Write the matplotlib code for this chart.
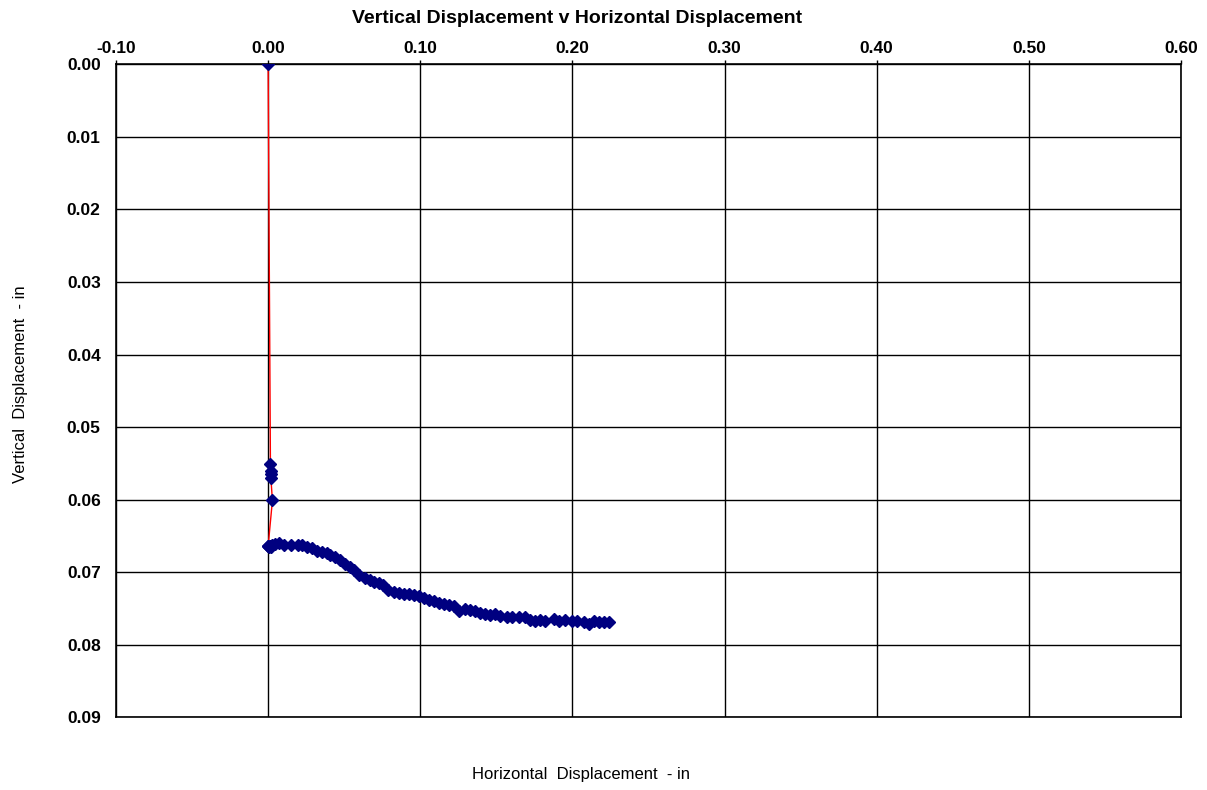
import matplotlib
matplotlib.use("Agg")
import matplotlib.pyplot as plt

plt.rcParams['font.family'] = ['Liberation Sans', 'DejaVu Sans']

# horizontal / vertical displacement readings (in)
horiz = [0.0000, 0.0015, 0.0016, 0.0017, 0.0018, 0.0028,
         0.0000, 0.0008, 0.0015, 0.0020,
         0.0002, 0.0024, 0.0046, 0.0074, 0.0101, 0.0149, 0.0193, 0.0222,
         0.0255, 0.0288, 0.0320, 0.0353, 0.0386, 0.0408, 0.0441, 0.0469,
         0.0502, 0.0539, 0.0561, 0.0594, 0.0638, 0.0671, 0.0693, 0.0726,
         0.0755, 0.0791, 0.0824, 0.0857, 0.0890, 0.0923, 0.0956, 0.0989,
         0.1022, 0.1055, 0.1088, 0.1120, 0.1153, 0.1186, 0.1219, 0.1252,
         0.1296, 0.1329, 0.1362, 0.1395, 0.1428, 0.1461, 0.1493, 0.1526,
         0.1570, 0.1603, 0.1647, 0.1691, 0.1724, 0.1757, 0.1789, 0.1822,
         0.1877, 0.1910, 0.1954, 0.1998, 0.2031, 0.2074, 0.2107, 0.2140,
         0.2173, 0.2206, 0.2239]
vert = [0.0000, 0.0551, 0.0560, 0.0565, 0.0570, 0.0601,
        0.0664, 0.0665, 0.0664, 0.0665,
        0.0664, 0.0663, 0.0661, 0.0660, 0.0663, 0.0663, 0.0663, 0.0663,
        0.0665, 0.0667, 0.0671, 0.0672, 0.0674, 0.0676, 0.0679, 0.0683,
        0.0688, 0.0692, 0.0697, 0.0703, 0.0708, 0.0711, 0.0713, 0.0715,
        0.0718, 0.0724, 0.0727, 0.0728, 0.0730, 0.0730, 0.0731, 0.0732,
        0.0735, 0.0738, 0.0740, 0.0742, 0.0744, 0.0745, 0.0747, 0.0753,
        0.0750, 0.0752, 0.0753, 0.0756, 0.0757, 0.0759, 0.0758, 0.0760,
        0.0762, 0.0762, 0.0762, 0.0761, 0.0765, 0.0767, 0.0766, 0.0767,
        0.0764, 0.0767, 0.0766, 0.0767, 0.0767, 0.0768, 0.0771, 0.0767,
        0.0769, 0.0769, 0.0769]

xticks = [-0.10, 0.00, 0.10, 0.20, 0.30, 0.40, 0.50, 0.60]
yticks = [0.00, 0.01, 0.02, 0.03, 0.04, 0.05, 0.06, 0.07, 0.08, 0.09]

fig = plt.figure(figsize=(12.07, 7.90), dpi=100)
ax = fig.add_axes([0.0961, 0.0918, 0.8824, 0.8268])

ax.plot(horiz, vert, color='red', lw=1, zorder=2)
ax.plot(horiz, vert, ls='none', marker='D', ms=6, color='#000080', zorder=3)

ax.set_xlim(-0.10, 0.60)
ax.set_ylim(0.09, 0.00)
ax.set_xticks(xticks)
ax.set_yticks(yticks)
ax.set_xticklabels([f"{v:.2f}" for v in xticks], fontweight='bold', fontsize=12.5)
ax.set_yticklabels([f"{v:.2f}" for v in yticks], fontweight='bold', fontsize=12.5)
ax.xaxis.tick_top()
ax.tick_params(axis='x', length=3, width=1, color='black', pad=3, direction='out')
ax.tick_params(axis='y', length=0, pad=11)
ax.grid(True, color='black', lw=1)
ax.set_axisbelow(True)
for s in ax.spines.values():
    s.set_color('black')
    s.set_linewidth(1.2)

fig.text(0.478, 0.977, "Vertical Displacement v Horizontal Displacement",
         ha='center', va='center', fontweight='bold', fontsize=14)
fig.text(0.481, 0.02, "Horizontal  Displacement  - in", ha='center', va='center', fontsize=12)
fig.text(0.017, 0.514, "Vertical  Displacement  - in", ha='center', va='center',
         rotation=90, fontsize=12)

fig.savefig("out.png", dpi=100)
